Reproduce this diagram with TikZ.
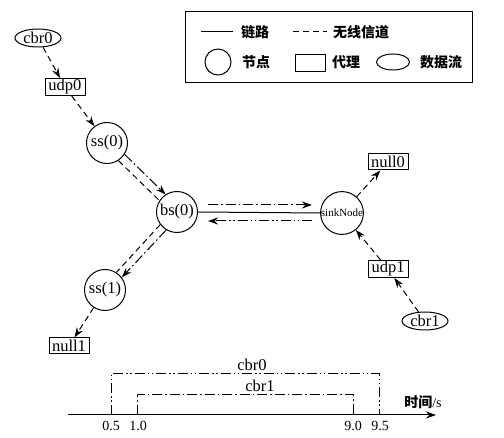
\documentclass[tikz,border=0pt]{standalone}
\usepackage{fontspec}
\setmainfont{Liberation Serif}
\newfontfamily\cjk{Noto Sans CJK SC}
\usetikzlibrary{arrows.meta,shapes.geometric,calc}
\begin{document}
\begin{tikzpicture}[x=1pt,y=-1pt, line width=1pt,
  lbl/.style={font=\fontsize{16.5}{16.5}\selectfont},
  nodecirc/.style={circle,draw,minimum size=41pt,inner sep=0pt,lbl},
  agent/.style={rectangle,draw,minimum width=40pt,minimum height=16pt,inner sep=1pt,lbl},
  src/.style={ellipse,draw,minimum width=46pt,minimum height=18pt,inner sep=0pt,lbl},
  tip/.style={-{Stealth[length=10pt,width=7pt]}},
  wireless/.style={dash pattern=on 6pt off 4pt},
  wlarrow/.style={wireless,tip},
  flowA/.style={dash pattern=on 10pt off 3pt on 1.5pt off 3pt},
  flowB/.style={dash pattern=on 10pt off 3pt on 1.5pt off 2.5pt on 1.5pt off 3pt},
  legtxt/.style={font=\cjk\bfseries\fontsize{14}{14}\selectfont,inner sep=0pt},
  ticklbl/.style={font=\fontsize{14}{14}\selectfont,inner sep=0pt}
  ]
\useasboundingbox (0,0) rectangle (504,438);

% legend
\node[draw,minimum width=287pt,minimum height=71pt,inner sep=0pt] (legend) at (328.5,47.5) {};
\coordinate (l1a) at (201,32); \coordinate (l1b) at (233,32);
\draw (l1a) -- (l1b);
\node[legtxt] (tlink) at (255,32) {链路};
\coordinate (l2a) at (293,32); \coordinate (l2b) at (327,32);
\draw[wireless] (l2a) -- (l2b);
\node[legtxt] (twl) at (361,32) {无线信道};
\node[circle,draw,minimum size=26pt,inner sep=0pt] (lcirc) at (218,62) {};
\node[legtxt] (tnode) at (256,62) {节点};
\node[rectangle,draw,minimum width=30pt,minimum height=17pt,inner sep=0pt] (lrect) at (310,63) {};
\node[legtxt] (tagent) at (346,62) {代理};
\node[ellipse,draw,minimum width=33pt,minimum height=16pt,inner sep=0pt] (lell) at (393,62) {};
\node[legtxt] (tflow) at (441,62) {数据流};

% nodes
\node[src] (cbr0) at (38,38) {cbr0};
\node[agent] (udp0) at (65,87) {udp0};
\node[nodecirc] (ss0) at (107,143) {ss(0)};
\node[nodecirc] (bs0) at (177,212) {bs(0)};
\node[nodecirc,font=\fontsize{11}{11}\selectfont] (sink) at (342,213) {sinkNode};
\node[agent] (null0) at (388,162) {null0};
\node[agent] (udp1) at (388,269) {udp1};
\node[src] (cbr1) at (425,321) {cbr1};
\node[nodecirc] (ss1) at (105,290) {ss(1)};
\node[agent] (null1) at (69,346) {null1};

% connectors
\draw[wlarrow] (cbr0) -- (udp0);
\draw[wlarrow] (udp0) -- (ss0);
\draw[flowA,tip] (ss0.-33) -- (bs0.123);
\draw[wireless] (ss0.-57) -- (bs0.147);
\draw[wireless] (bs0.217) -- (ss1.57);
\draw[flowA,tip] (bs0.239) -- (ss1.37);
\draw[wlarrow] (ss1) -- (null1);
\draw (bs0.east) -- (sink.west);
\coordinate (fa1) at (208,205); \coordinate (fa2) at (312,205);
\draw[flowA,tip] (fa1) -- (fa2);
\coordinate (fb1) at (312,221); \coordinate (fb2) at (208,221);
\draw[flowB,tip] (fb1) -- (fb2);
\draw[wlarrow] (sink) -- (null0);
\draw[wlarrow] (udp1) -- (sink);
\draw[wlarrow] (cbr1) -- (udp1);

% timeline
\coordinate (ax0) at (68,415); \coordinate (ax1) at (436,415);
\draw[tip] (ax0) -- (ax1);
\node[font=\fontsize{14}{14}\selectfont,inner sep=0pt] (tlab) at (423,402) {{\cjk\bfseries 时间}/s};
\coordinate (a0) at (111,415); \coordinate (a1) at (111,374);
\coordinate (a2) at (379,374); \coordinate (a3) at (379,415);
\draw[flowB] (a0) -- (a1) -- (a2) -- (a3);
\coordinate (b0) at (137,415); \coordinate (b1) at (137,395);
\coordinate (b2) at (353,395); \coordinate (b3) at (353,415);
\draw[flowA] (b0) -- (b1) -- (b2) -- (b3);
\node[lbl,inner sep=0pt] (c0lab) at (252,365) {cbr0};
\node[lbl,inner sep=0pt] (c1lab) at (260,386) {cbr1};
\node[ticklbl] (t05) at (111,426) {0.5};
\node[ticklbl] (t10) at (138,426) {1.0};
\node[ticklbl] (t90) at (353,426) {9.0};
\node[ticklbl] (t95) at (380,426) {9.5};
\end{tikzpicture}
\end{document}
